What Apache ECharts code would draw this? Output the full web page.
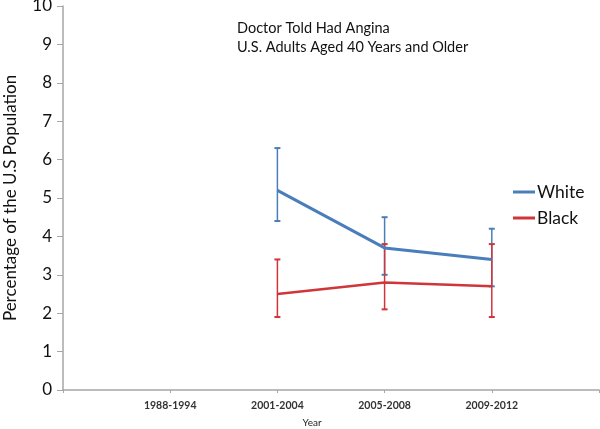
<!DOCTYPE html>
<html><head><meta charset="utf-8">
<script src="https://cdn.jsdelivr.net/npm/echarts@6/dist/echarts.min.js"></script>
<style>html,body{margin:0;padding:0;background:#fff}#c{width:600px;height:429px}</style>
</head><body><div id="c"></div>
<script>
var categories = [' ', '1988-1994', '2001-2004', '2005-2008', '2009-2012', '  '];
var whiteValues = [null, null, 5.2, 3.7, 3.4, null];
var whiteLow = [null, null, 4.4, 3.0, 2.7, null];
var whiteHigh = [null, null, 6.3, 4.5, 4.2, null];
var blackValues = [null, null, 2.5, 2.8, 2.7, null];
var blackLow = [null, null, 1.9, 2.1, 1.9, null];
var blackHigh = [null, null, 3.4, 3.8, 3.8, null];
var yTicks = [0, 10, 1];
var titleLines = ['Doctor Told Had Angina', 'U.S. Adults Aged 40 Years and Older'];

var BLUE = '#4a7ebb', RED = '#d0353a';
function errData(lo, hi) {
  var out = [];
  for (var i = 0; i < categories.length; i++) if (lo[i] != null) out.push([i, lo[i], hi[i]]);
  return out;
}
function errSeries(name, lo, hi, color) {
  return {
    type: 'custom', name: name + ' err', silent: true, z: 1,
    data: errData(lo, hi), encode: {x: 0, y: [1, 2]},
    renderItem: function (params, api) {
      var x = api.value(0);
      var a = api.coord([x, api.value(1)]);
      var b = api.coord([x, api.value(2)]);
      var w = 3;
      var st = {stroke: color, lineWidth: 1.5};
      return {type: 'group', children: [
        {type: 'line', shape: {x1: a[0], y1: a[1], x2: b[0], y2: b[1]}, style: st},
        {type: 'line', shape: {x1: a[0] - w, y1: a[1], x2: a[0] + w, y2: a[1]}, style: {stroke: color, lineWidth: 2}},
        {type: 'line', shape: {x1: b[0] - w, y1: b[1], x2: b[0] + w, y2: b[1]}, style: {stroke: color, lineWidth: 2}}
      ]};
    }
  };
}
var chart = echarts.init(document.getElementById('c'));
chart.setOption({
  animation: false,
  backgroundColor: '#fff',
  title: {
    text: titleLines.join('\n'), left: 232, top: 14,
    textStyle: {fontFamily: 'Lato', fontSize: 14.5, fontWeight: 'normal', color: '#111', lineHeight: 19}
  },
  grid: {left: 63, right: 1, top: 6, bottom: 39, outerBoundsMode: 'none', containLabel: false},
  legend: {
    orient: 'vertical', left: 508, top: 178, itemGap: 8,
    icon: 'rect', itemWidth: 22, itemHeight: 3,
    textStyle: {fontFamily: 'Lato', fontSize: 17.5, color: '#111', padding: [0, 0, 0, -3]},
    data: ['White', 'Black']
  },
  xAxis: {
    type: 'category', data: categories, boundaryGap: false,
    name: 'Year', nameLocation: 'middle', nameGap: 28,
    nameTextStyle: {fontFamily: 'Lato', fontSize: 10, color: '#222', padding: [0, 38, 0, 0]},
    axisLine: {lineStyle: {color: '#a6a6a6', width: 1.5}},
    axisTick: {show: true, length: 3, lineStyle: {color: '#a6a6a6'}},
    axisLabel: {fontFamily: 'Lato', fontSize: 10.5, fontWeight: 'bold', color: '#333', margin: 10, interval: 0}
  },
  yAxis: {
    type: 'value', min: yTicks[0], max: yTicks[1], interval: yTicks[2],
    name: 'Percentage of the U.S Population', nameLocation: 'middle', nameGap: 44,
    nameTextStyle: {fontFamily: 'Lato', fontSize: 17, color: '#111'},
    axisLine: {show: true, lineStyle: {color: '#a6a6a6', width: 1.5}},
    axisTick: {show: true, length: 6, lineStyle: {color: '#a6a6a6'}},
    splitLine: {show: false},
    axisLabel: {fontFamily: 'Lato', fontSize: 17, color: '#111', margin: 11}
  },
  series: [
    errSeries('White', whiteLow, whiteHigh, BLUE),
    errSeries('Black', blackLow, blackHigh, RED),
    {name: 'White', type: 'line', data: whiteValues, color: BLUE, showSymbol: false, symbol: 'none', z: 3,
     lineStyle: {color: BLUE, width: 3}},
    {name: 'Black', type: 'line', data: blackValues, color: RED, showSymbol: false, symbol: 'none', z: 3,
     lineStyle: {color: RED, width: 2.5}}
  ]
});
</script></body></html>
